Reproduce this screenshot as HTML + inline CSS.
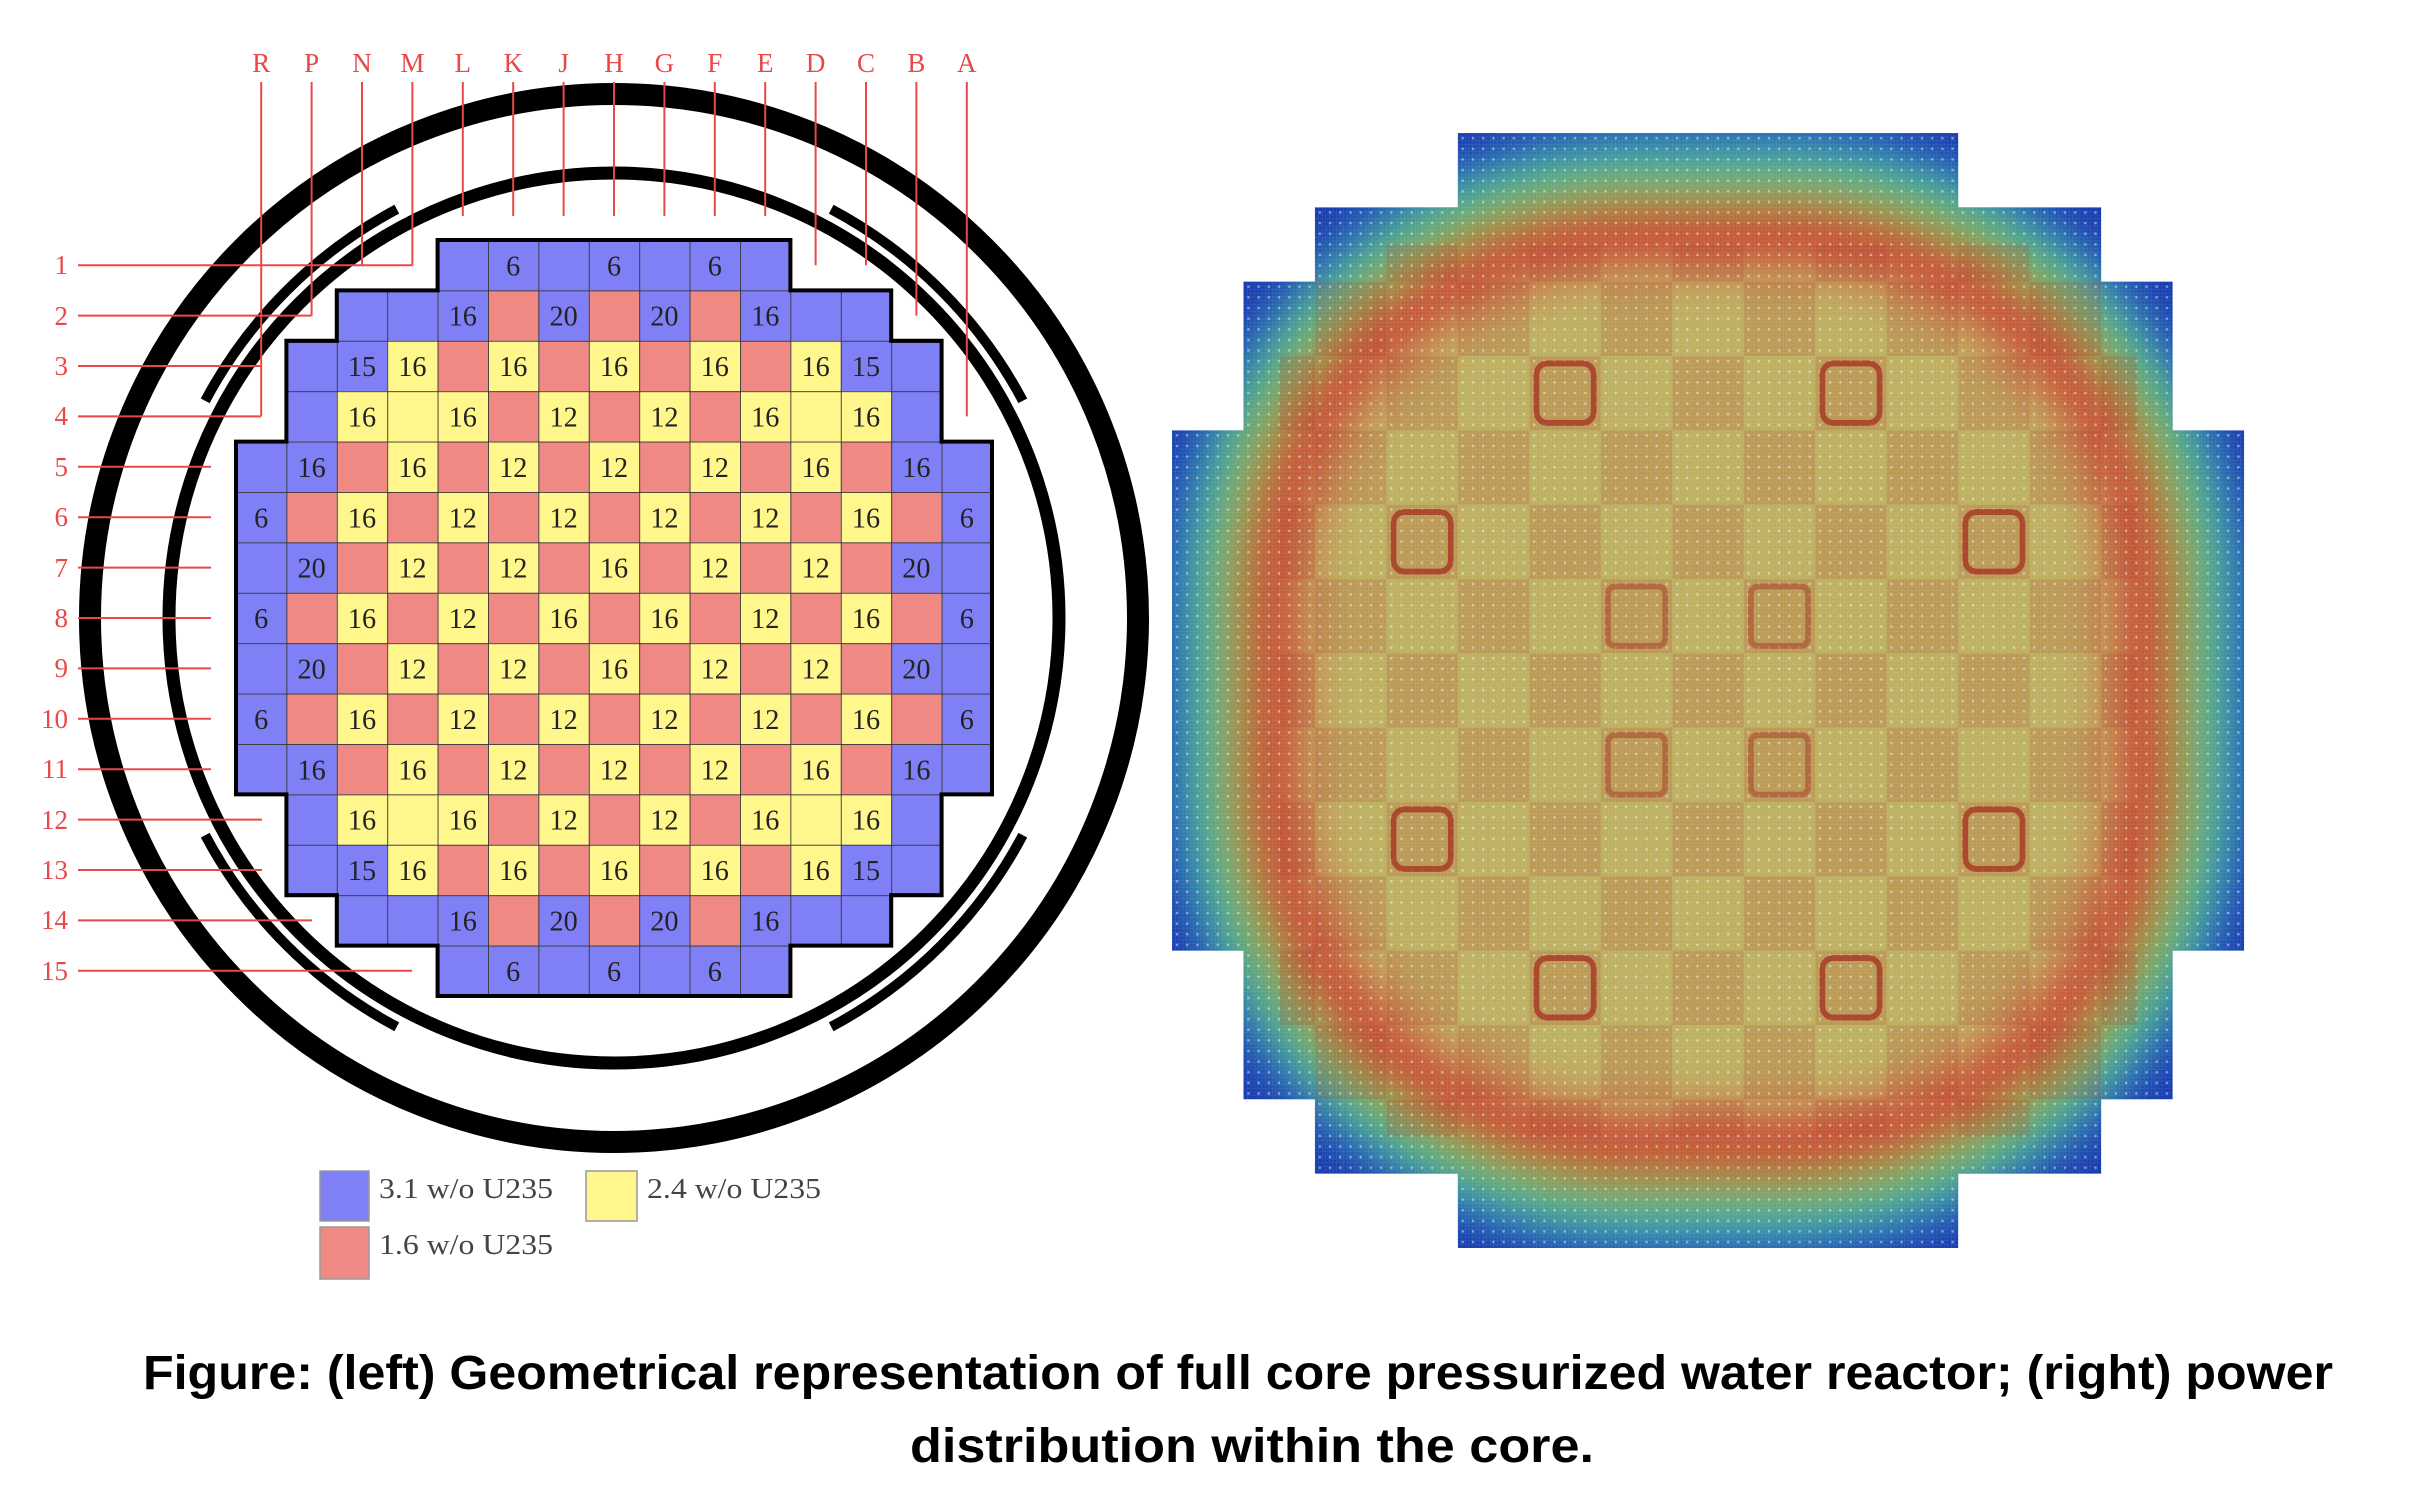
<!DOCTYPE html>
<html><head><meta charset="utf-8"><style>
html,body{margin:0;padding:0;background:#fff;}
svg{display:block;}
</style></head><body>
<svg width="2416" height="1508" viewBox="0 0 2416 1508" xmlns="http://www.w3.org/2000/svg">
<defs>
<clipPath id="shape"><path d="M4 0H11V1H13V2H14V4H15V11H14V13H13V14H11V15H4V14H2V13H1V11H0V4H1V2H2V1H4Z"/></clipPath>
<clipPath id="hshape" clipPathUnits="userSpaceOnUse"><path transform="translate(1172,133) scale(71.47,74.33)" d="M4 0H11V1H13V2H14V4H15V11H14V13H13V14H11V15H4V14H2V13H1V11H0V4H1V2H2V1H4Z"/></clipPath>
<filter id="blur" x="-20%" y="-20%" width="140%" height="140%"><feGaussianBlur stdDeviation="24"/></filter>
<pattern id="grid" patternUnits="userSpaceOnUse" width="1" height="1"><path d="M0 0H1M0 0V1" stroke="#333" stroke-width="0.035" fill="none"/></pattern>
<pattern id="checker" patternUnits="userSpaceOnUse" width="2" height="2"><rect x="0" y="0" width="1" height="1" fill="#b03828"/><rect x="1" y="1" width="1" height="1" fill="#b03828"/></pattern>
<pattern id="dots" patternUnits="userSpaceOnUse" width="0.1428" height="0.1428"><circle cx="0.07" cy="0.07" r="0.018" fill="#fff"/></pattern>
<pattern id="fine" patternUnits="userSpaceOnUse" width="0.05" height="0.05"><path d="M0 0H0.05M0 0V0.05" stroke="#fff" stroke-width="0.006" fill="none"/></pattern>
</defs>

<!-- vessel rings -->
<circle cx="614" cy="618" r="524" fill="none" stroke="#000" stroke-width="22"/>
<circle cx="614" cy="618" r="445" fill="none" stroke="#000" stroke-width="13"/>
<g fill="none" stroke="#000" stroke-width="10">
<path d="M205.2 400.8A463 463 0 0 1 396.8 209.2"/>
<path d="M831.2 209.2A463 463 0 0 1 1022.8 400.8"/>
<path d="M1022.8 835.2A463 463 0 0 1 831.2 1026.8"/>
<path d="M396.8 1026.8A463 463 0 0 1 205.2 835.2"/>
</g>

<!-- core grid -->
<g transform="translate(236,240) scale(50.4)">
<path d="M4 0H11V1H13V2H14V4H15V11H14V13H13V14H11V15H4V14H2V13H1V11H0V4H1V2H2V1H4Z" fill="#8080f6"/>
<g fill="#f08884">
<rect x="5" y="1" width="1" height="1"/><rect x="7" y="1" width="1" height="1"/><rect x="9" y="1" width="1" height="1"/>
<rect x="4" y="2" width="1" height="1"/><rect x="6" y="2" width="1" height="1"/><rect x="8" y="2" width="1" height="1"/><rect x="10" y="2" width="1" height="1"/>
<rect x="5" y="3" width="1" height="1"/><rect x="7" y="3" width="1" height="1"/><rect x="9" y="3" width="1" height="1"/>
<rect x="2" y="4" width="1" height="1"/><rect x="4" y="4" width="1" height="1"/><rect x="6" y="4" width="1" height="1"/><rect x="8" y="4" width="1" height="1"/><rect x="10" y="4" width="1" height="1"/><rect x="12" y="4" width="1" height="1"/>
<rect x="1" y="5" width="1" height="1"/><rect x="3" y="5" width="1" height="1"/><rect x="5" y="5" width="1" height="1"/><rect x="7" y="5" width="1" height="1"/><rect x="9" y="5" width="1" height="1"/><rect x="11" y="5" width="1" height="1"/><rect x="13" y="5" width="1" height="1"/>
<rect x="2" y="6" width="1" height="1"/><rect x="4" y="6" width="1" height="1"/><rect x="6" y="6" width="1" height="1"/><rect x="8" y="6" width="1" height="1"/><rect x="10" y="6" width="1" height="1"/><rect x="12" y="6" width="1" height="1"/>
<rect x="1" y="7" width="1" height="1"/><rect x="3" y="7" width="1" height="1"/><rect x="5" y="7" width="1" height="1"/><rect x="7" y="7" width="1" height="1"/><rect x="9" y="7" width="1" height="1"/><rect x="11" y="7" width="1" height="1"/><rect x="13" y="7" width="1" height="1"/>
<rect x="2" y="8" width="1" height="1"/><rect x="4" y="8" width="1" height="1"/><rect x="6" y="8" width="1" height="1"/><rect x="8" y="8" width="1" height="1"/><rect x="10" y="8" width="1" height="1"/><rect x="12" y="8" width="1" height="1"/>
<rect x="1" y="9" width="1" height="1"/><rect x="3" y="9" width="1" height="1"/><rect x="5" y="9" width="1" height="1"/><rect x="7" y="9" width="1" height="1"/><rect x="9" y="9" width="1" height="1"/><rect x="11" y="9" width="1" height="1"/><rect x="13" y="9" width="1" height="1"/>
<rect x="2" y="10" width="1" height="1"/><rect x="4" y="10" width="1" height="1"/><rect x="6" y="10" width="1" height="1"/><rect x="8" y="10" width="1" height="1"/><rect x="10" y="10" width="1" height="1"/><rect x="12" y="10" width="1" height="1"/>
<rect x="5" y="11" width="1" height="1"/><rect x="7" y="11" width="1" height="1"/><rect x="9" y="11" width="1" height="1"/>
<rect x="4" y="12" width="1" height="1"/><rect x="6" y="12" width="1" height="1"/><rect x="8" y="12" width="1" height="1"/><rect x="10" y="12" width="1" height="1"/>
<rect x="5" y="13" width="1" height="1"/><rect x="7" y="13" width="1" height="1"/><rect x="9" y="13" width="1" height="1"/>
</g>
<g fill="#fff68c">
<rect x="3" y="2" width="1" height="1"/><rect x="5" y="2" width="1" height="1"/><rect x="7" y="2" width="1" height="1"/><rect x="9" y="2" width="1" height="1"/><rect x="11" y="2" width="1" height="1"/>
<rect x="2" y="3" width="3" height="1"/><rect x="6" y="3" width="1" height="1"/><rect x="8" y="3" width="1" height="1"/><rect x="10" y="3" width="3" height="1"/>
<rect x="3" y="4" width="1" height="1"/><rect x="5" y="4" width="1" height="1"/><rect x="7" y="4" width="1" height="1"/><rect x="9" y="4" width="1" height="1"/><rect x="11" y="4" width="1" height="1"/>
<rect x="2" y="5" width="1" height="1"/><rect x="4" y="5" width="1" height="1"/><rect x="6" y="5" width="1" height="1"/><rect x="8" y="5" width="1" height="1"/><rect x="10" y="5" width="1" height="1"/><rect x="12" y="5" width="1" height="1"/>
<rect x="3" y="6" width="1" height="1"/><rect x="5" y="6" width="1" height="1"/><rect x="7" y="6" width="1" height="1"/><rect x="9" y="6" width="1" height="1"/><rect x="11" y="6" width="1" height="1"/>
<rect x="2" y="7" width="1" height="1"/><rect x="4" y="7" width="1" height="1"/><rect x="6" y="7" width="1" height="1"/><rect x="8" y="7" width="1" height="1"/><rect x="10" y="7" width="1" height="1"/><rect x="12" y="7" width="1" height="1"/>
<rect x="3" y="8" width="1" height="1"/><rect x="5" y="8" width="1" height="1"/><rect x="7" y="8" width="1" height="1"/><rect x="9" y="8" width="1" height="1"/><rect x="11" y="8" width="1" height="1"/>
<rect x="2" y="9" width="1" height="1"/><rect x="4" y="9" width="1" height="1"/><rect x="6" y="9" width="1" height="1"/><rect x="8" y="9" width="1" height="1"/><rect x="10" y="9" width="1" height="1"/><rect x="12" y="9" width="1" height="1"/>
<rect x="3" y="10" width="1" height="1"/><rect x="5" y="10" width="1" height="1"/><rect x="7" y="10" width="1" height="1"/><rect x="9" y="10" width="1" height="1"/><rect x="11" y="10" width="1" height="1"/>
<rect x="2" y="11" width="3" height="1"/><rect x="6" y="11" width="1" height="1"/><rect x="8" y="11" width="1" height="1"/><rect x="10" y="11" width="3" height="1"/>
<rect x="3" y="12" width="1" height="1"/><rect x="5" y="12" width="1" height="1"/><rect x="7" y="12" width="1" height="1"/><rect x="9" y="12" width="1" height="1"/><rect x="11" y="12" width="1" height="1"/>
</g>
<rect x="0" y="0" width="15" height="15" fill="url(#grid)" clip-path="url(#shape)"/>
<path d="M4 0H11V1H13V2H14V4H15V11H14V13H13V14H11V15H4V14H2V13H1V11H0V4H1V2H2V1H4Z" fill="none" stroke="#000" stroke-width="0.08"/>
<g font-family="Liberation Serif, serif" font-size="0.56" fill="#222" text-anchor="middle">
<text x="5.5" y="0.7">6</text><text x="7.5" y="0.7">6</text><text x="9.5" y="0.7">6</text>
<text x="4.5" y="1.7">16</text><text x="6.5" y="1.7">20</text><text x="8.5" y="1.7">20</text><text x="10.5" y="1.7">16</text>
<text x="2.5" y="2.7">15</text><text x="3.5" y="2.7">16</text><text x="5.5" y="2.7">16</text><text x="7.5" y="2.7">16</text><text x="9.5" y="2.7">16</text><text x="11.5" y="2.7">16</text><text x="12.5" y="2.7">15</text>
<text x="2.5" y="3.7">16</text><text x="4.5" y="3.7">16</text><text x="6.5" y="3.7">12</text><text x="8.5" y="3.7">12</text><text x="10.5" y="3.7">16</text><text x="12.5" y="3.7">16</text>
<text x="1.5" y="4.7">16</text><text x="3.5" y="4.7">16</text><text x="5.5" y="4.7">12</text><text x="7.5" y="4.7">12</text><text x="9.5" y="4.7">12</text><text x="11.5" y="4.7">16</text><text x="13.5" y="4.7">16</text>
<text x="0.5" y="5.7">6</text><text x="2.5" y="5.7">16</text><text x="4.5" y="5.7">12</text><text x="6.5" y="5.7">12</text><text x="8.5" y="5.7">12</text><text x="10.5" y="5.7">12</text><text x="12.5" y="5.7">16</text><text x="14.5" y="5.7">6</text>
<text x="1.5" y="6.7">20</text><text x="3.5" y="6.7">12</text><text x="5.5" y="6.7">12</text><text x="7.5" y="6.7">16</text><text x="9.5" y="6.7">12</text><text x="11.5" y="6.7">12</text><text x="13.5" y="6.7">20</text>
<text x="0.5" y="7.7">6</text><text x="2.5" y="7.7">16</text><text x="4.5" y="7.7">12</text><text x="6.5" y="7.7">16</text><text x="8.5" y="7.7">16</text><text x="10.5" y="7.7">12</text><text x="12.5" y="7.7">16</text><text x="14.5" y="7.7">6</text>
<text x="1.5" y="8.7">20</text><text x="3.5" y="8.7">12</text><text x="5.5" y="8.7">12</text><text x="7.5" y="8.7">16</text><text x="9.5" y="8.7">12</text><text x="11.5" y="8.7">12</text><text x="13.5" y="8.7">20</text>
<text x="0.5" y="9.7">6</text><text x="2.5" y="9.7">16</text><text x="4.5" y="9.7">12</text><text x="6.5" y="9.7">12</text><text x="8.5" y="9.7">12</text><text x="10.5" y="9.7">12</text><text x="12.5" y="9.7">16</text><text x="14.5" y="9.7">6</text>
<text x="1.5" y="10.7">16</text><text x="3.5" y="10.7">16</text><text x="5.5" y="10.7">12</text><text x="7.5" y="10.7">12</text><text x="9.5" y="10.7">12</text><text x="11.5" y="10.7">16</text><text x="13.5" y="10.7">16</text>
<text x="2.5" y="11.7">16</text><text x="4.5" y="11.7">16</text><text x="6.5" y="11.7">12</text><text x="8.5" y="11.7">12</text><text x="10.5" y="11.7">16</text><text x="12.5" y="11.7">16</text>
<text x="2.5" y="12.7">15</text><text x="3.5" y="12.7">16</text><text x="5.5" y="12.7">16</text><text x="7.5" y="12.7">16</text><text x="9.5" y="12.7">16</text><text x="11.5" y="12.7">16</text><text x="12.5" y="12.7">15</text>
<text x="4.5" y="13.7">16</text><text x="6.5" y="13.7">20</text><text x="8.5" y="13.7">20</text><text x="10.5" y="13.7">16</text>
<text x="5.5" y="14.7">6</text><text x="7.5" y="14.7">6</text><text x="9.5" y="14.7">6</text>
</g>
</g>

<!-- leader lines -->
<g stroke="#e84848" stroke-width="2" fill="none">
<path d="M261.2 82V416.4M311.6 82V315.6M362 82V265.2M412.4 82V265.2M462.8 82V216M513.2 82V216M563.6 82V216M614 82V216M664.4 82V216M714.8 82V216M765.2 82V216M815.6 82V265.2M866 82V265.2M916.4 82V315.6M966.8 82V416.4"/>
<path d="M78 265.2H412.4M78 315.6H311.6M78 366H261.2M78 416.4H261.2M78 466.8H211M78 517.2H211M78 567.6H211M78 618H211M78 668.4H211M78 718.8H211M78 769.2H211M78 819.6H262M78 870H262M78 920.4H312M78 970.8H412"/>
</g>
<g font-family="Liberation Serif, serif" font-size="27" fill="#e84848" text-anchor="middle">
<text x="261.2" y="72">R</text><text x="311.6" y="72">P</text><text x="362" y="72">N</text><text x="412.4" y="72">M</text><text x="462.8" y="72">L</text><text x="513.2" y="72">K</text><text x="563.6" y="72">J</text><text x="614" y="72">H</text><text x="664.4" y="72">G</text><text x="714.8" y="72">F</text><text x="765.2" y="72">E</text><text x="815.6" y="72">D</text><text x="866" y="72">C</text><text x="916.4" y="72">B</text><text x="966.8" y="72">A</text>
</g>
<g font-family="Liberation Serif, serif" font-size="27" fill="#e84848" text-anchor="end">
<text x="68" y="274">1</text><text x="68" y="325">2</text><text x="68" y="375">3</text><text x="68" y="425">4</text><text x="68" y="476">5</text><text x="68" y="526">6</text><text x="68" y="577">7</text><text x="68" y="627">8</text><text x="68" y="677">9</text><text x="68" y="728">10</text><text x="68" y="778">11</text><text x="68" y="829">12</text><text x="68" y="879">13</text><text x="68" y="929">14</text><text x="68" y="980">15</text>
</g>

<!-- legend -->
<rect x="320" y="1171" width="49" height="50" fill="#8080f6" stroke="#999" stroke-width="1.5"/>
<rect x="586" y="1171" width="51" height="50" fill="#fff68c" stroke="#999" stroke-width="1.5"/>
<rect x="320" y="1227" width="49" height="52" fill="#f08884" stroke="#999" stroke-width="1.5"/>
<g font-family="Liberation Serif, serif" font-size="29" fill="#444">
<text x="379" y="1198" textLength="174" lengthAdjust="spacingAndGlyphs">3.1 w/o U235</text>
<text x="647" y="1198" textLength="174" lengthAdjust="spacingAndGlyphs">2.4 w/o U235</text>
<text x="379" y="1254" textLength="174" lengthAdjust="spacingAndGlyphs">1.6 w/o U235</text>
</g>

<!-- heatmap -->
<g clip-path="url(#hshape)">
<rect x="1160" y="120" width="1100" height="1140" fill="#1838b0"/>
<g filter="url(#blur)">
<rect x="1175" y="135" width="1066" height="1110" rx="470" fill="#38a8c8"/>
<rect x="1200" y="162" width="1016" height="1056" rx="430" fill="#50c050"/>
<rect x="1236" y="198" width="944" height="984" rx="400" fill="#c84a34"/>
<rect x="1310" y="275" width="796" height="830" rx="320" fill="#bdb060"/>
</g>
</g>
<g transform="translate(1172,133) scale(71.47,74.33)">
<g clip-path="url(#shape)">
<rect x="1.5" y="1.5" width="12" height="12" fill="url(#checker)" opacity="0.18"/>
<rect x="0" y="0" width="15" height="15" fill="url(#fine)" opacity="0.25"/>
<rect x="0" y="0" width="15" height="15" fill="url(#dots)" opacity="0.45"/>
<g fill="none" stroke="#a83424" stroke-width="0.08" opacity="0.8">
<rect x="5.1" y="3.1" width="0.8" height="0.8" rx="0.15"/><rect x="9.1" y="3.1" width="0.8" height="0.8" rx="0.15"/>
<rect x="3.1" y="5.1" width="0.8" height="0.8" rx="0.15"/><rect x="11.1" y="5.1" width="0.8" height="0.8" rx="0.15"/>
<rect x="3.1" y="9.1" width="0.8" height="0.8" rx="0.15"/><rect x="11.1" y="9.1" width="0.8" height="0.8" rx="0.15"/>
<rect x="5.1" y="11.1" width="0.8" height="0.8" rx="0.15"/><rect x="9.1" y="11.1" width="0.8" height="0.8" rx="0.15"/>
<rect x="6.1" y="6.1" width="0.8" height="0.8" rx="0.1" opacity="0.6"/><rect x="8.1" y="6.1" width="0.8" height="0.8" rx="0.1" opacity="0.6"/>
<rect x="6.1" y="8.1" width="0.8" height="0.8" rx="0.1" opacity="0.6"/><rect x="8.1" y="8.1" width="0.8" height="0.8" rx="0.1" opacity="0.6"/>
</g>
</g>
</g>

<!-- caption -->
<g font-family="Liberation Sans, sans-serif" font-weight="bold" font-size="48" fill="#000">
<text x="143" y="1389" textLength="2190" lengthAdjust="spacingAndGlyphs">Figure: (left) Geometrical representation of full core pressurized water reactor; (right) power</text>
<text x="910" y="1462" textLength="684" lengthAdjust="spacingAndGlyphs">distribution within the core.</text>
</g>
</svg>
</body></html>
